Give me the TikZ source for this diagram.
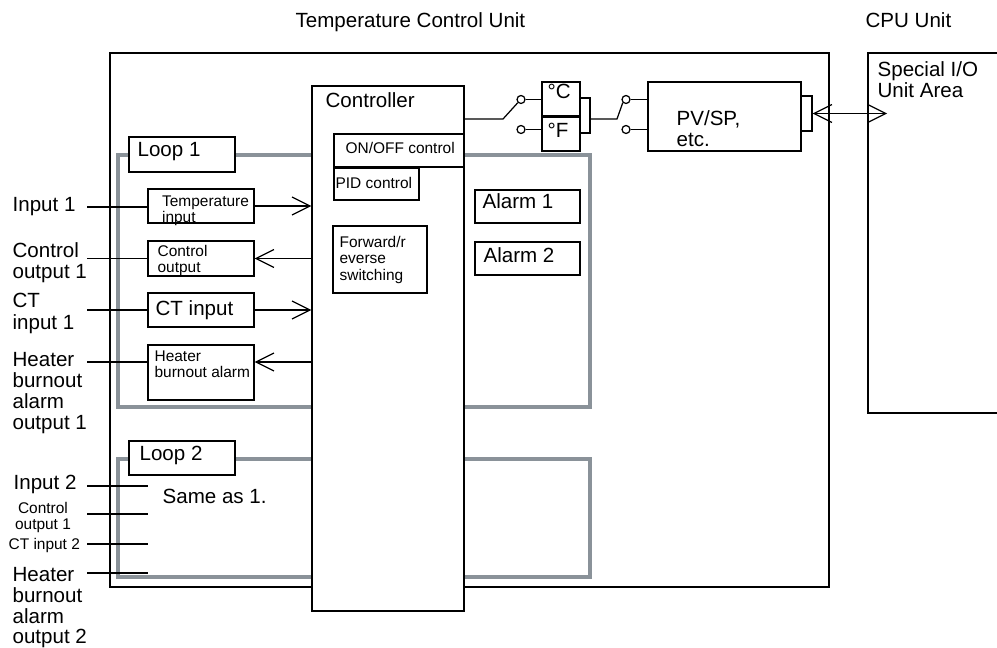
\documentclass[tikz,border=0pt]{standalone}
\usepackage{fontspec}
\setmainfont{Liberation Sans}
\usetikzlibrary{arrows.meta,fit}
\definecolor{loopgray}{RGB}{138,146,153}
\newcommand{\bigsz}{\fontsize{11.7}{12}\selectfont}
\newcommand{\smallsz}{\fontsize{8.8}{9.2}\selectfont}

\begin{document}
\begin{tikzpicture}[x=0.02cm,y=-0.02cm,line width=0.7pt,
  >={Straight Barb[length=0.36cm,width=0.36cm]},
  box/.style={draw,fill=white,inner sep=0pt},
  thickbox/.style={box,line width=1.3pt},
  loopbox/.style={draw=loopgray,line width=2.3pt,inner sep=0pt},
  lbl/.style={inner sep=0pt,font=\bigsz,align=left},
  slbl/.style={inner sep=0pt,font=\smallsz,align=left},
  term/.style={circle,draw,fill=white,inner sep=0pt,minimum size=0.16cm}]
\clip (0,0) rectangle (997,648);

% units
\node[box, fit={(110,53) (829,587)}] (tcu) {};
\node[box, fit={(868,53) (1010,413)}] (cpu) {};
\node[lbl, anchor=base west] (ttcu) at (295,28) {Temperature Control Unit};
\node[lbl, anchor=base west] (tcpu) at (865,28) {CPU Unit};
\node[lbl, anchor=north west] (tsio) at (877,60.5) {Special I/O\\Unit Area};

% loops
\node[loopbox, fit={(118,155) (590,407)}] (loopa) {};
\node[loopbox, fit={(118,459) (590,577)}] (loopb) {};
\node[box, fit={(129,137) (235,172)}] (loopalbl) {};
\node[box, fit={(129,441) (235,475)}] (loopblbl) {};
\node[lbl, anchor=base west] (tla) at (137,157) {Loop 1};
\node[lbl, anchor=base west] (tlb) at (139,460) {Loop 2};
\node[lbl, anchor=base west] (tsame) at (162,503) {Same as 1.};

% controller
\node[box, fit={(312,86) (464,611)}] (ctrl) {};
\node[lbl, anchor=base west] (tctrl) at (325,108) {Controller};
\node[thickbox, fit={(334,134) (464,167)}] (onoff) {};
\node[box, line width=1pt, fit={(334,168) (419,200)}] (pid) {};
\node[thickbox, fit={(333,226) (427,293)}] (fwd) {};
\node[slbl, anchor=north west] (tonoff) at (345,141.5) {ON/OFF control};
\node[slbl, anchor=north west] (tpid) at (335,176.5) {PID control};
\node[slbl, anchor=north west] (tfwd) at (339,236) {Forward/r\\everse\\switching};

\node[box, fit={(475,190) (580,223)}] (alma) {};
\node[box, fit={(475,242) (580,275)}] (almb) {};
\node[lbl, anchor=base west] (talma) at (482,209) {Alarm 1};
\node[lbl, anchor=base west] (talmb) at (483,263) {Alarm 2};

% loop 1 blocks
\node[box, fit={(148,189) (254,223)}] (tin) {};
\node[box, fit={(148,241) (254,276)}] (cout) {};
\node[box, fit={(148,293) (254,327)}] (ctin) {};
\node[box, fit={(148,345) (254,400)}] (hbo) {};
\node[slbl, anchor=north west] (ttin) at (161.5,195) {Temperature\\input};
\node[slbl, anchor=north west] (tcout) at (157,245) {Control\\output};
\node[lbl, anchor=base west] (tctin) at (155,316) {CT input};
\node[slbl, anchor=north west] (thbo) at (154,350.5) {Heater\\burnout alarm};

\draw[->] (tin.east) -- (tin.east -| ctrl.west);
\draw[<-] (cout.east) -- (cout.east -| ctrl.west);
\draw[->] (ctin.east) -- (ctin.east -| ctrl.west);
\coordinate (hbc) at (312,362);
\draw[<-] (hbc -| hbo.east) -- (hbc);

% loop 1 terminals
\coordinate (ina) at (87,207);
\coordinate (coa) at (87,258.5);
\coordinate (cta) at (87,310);
\coordinate (hba) at (87,362);
\draw (ina) -- (ina -| tin.west);
\draw (coa) -- (coa -| cout.west);
\draw (cta) -- (cta -| ctin.west);
\draw (hba) -- (hba -| hbo.west);
\node[lbl, anchor=base west] (lina) at (12,212) {Input 1};
\node[lbl, anchor=north west] (lcoa) at (12,241.5) {Control\\output 1};
\node[lbl, anchor=north west] (lcta) at (12,293) {CT\\input 1};
\node[lbl, anchor=north west] (lhba) at (12,351.5) {Heater\\burnout\\alarm\\output 1};

% loop 2 terminals
\coordinate (inb) at (87,486);
\coordinate (cob) at (87,514);
\coordinate (ctb) at (87,544);
\coordinate (hbb) at (87,573);
\foreach \t in {inb,cob,ctb,hbb}
  \draw (\t) -- ++(61,0);
\node[lbl, anchor=base west] (linb) at (13,489) {Input 2};
\node[slbl, anchor=north, align=center] (lcob) at (43,501.5) {Control\\output 1};
\node[slbl, anchor=base west] (lctb) at (8,549) {CT input 2};
\node[lbl, anchor=north west, font=\fontsize{11.7}{11.8}\selectfont] (lhbb) at (12,567) {Heater\\burnout\\alarm\\output 2};

% unit switch
\node[box, fit={(542,82) (580,116)}] (degc) {};
\node[box, fit={(542,116) (580,151)}] (degf) {};
\draw[line width=1.3pt] (degc.south west) -- (degc.south east);
\node[lbl, anchor=base west] (tdegc) at (547,99) {°C};
\node[lbl, anchor=base west] (tdegf) at (547,138) {°F};
\coordinate (brt) at (590,98);
\coordinate (brb) at (590,133);
\draw (brt -| degc.east) -- (brt) -- (brb) -- (brb -| degf.east);

\node[term] (sa) at (521,99.5) {};
\node[term] (sb) at (521,129.5) {};
\node[term] (sc) at (626,99.5) {};
\node[term] (sd) at (626,129.5) {};
\draw (sa) -- (sa -| degc.west);
\draw (sb) -- (sb -| degf.west);
\coordinate (lva) at (503,119);
\draw (ctrl.east |- lva) -- (lva) -- (sa.south west);
\coordinate (lvb) at (617,119);
\draw (brt |- lvb) -- (lvb) -- (sc.south west);

% PV/SP
\node[box, fit={(648,82) (801,151)}] (pv) {};
\node[lbl, anchor=north west] (tpv) at (676,110) {PV/SP,\\etc.};
\draw (sc) -- (sc -| pv.west);
\draw (sd) -- (sd -| pv.west);
\node[box, fit={(801,96) (812,131)}] (plug) {};
\coordinate (cpuin) at (887,113.5);
\draw[<->] (plug.east) -- (plug.east -| cpuin);
\end{tikzpicture}
\end{document}
